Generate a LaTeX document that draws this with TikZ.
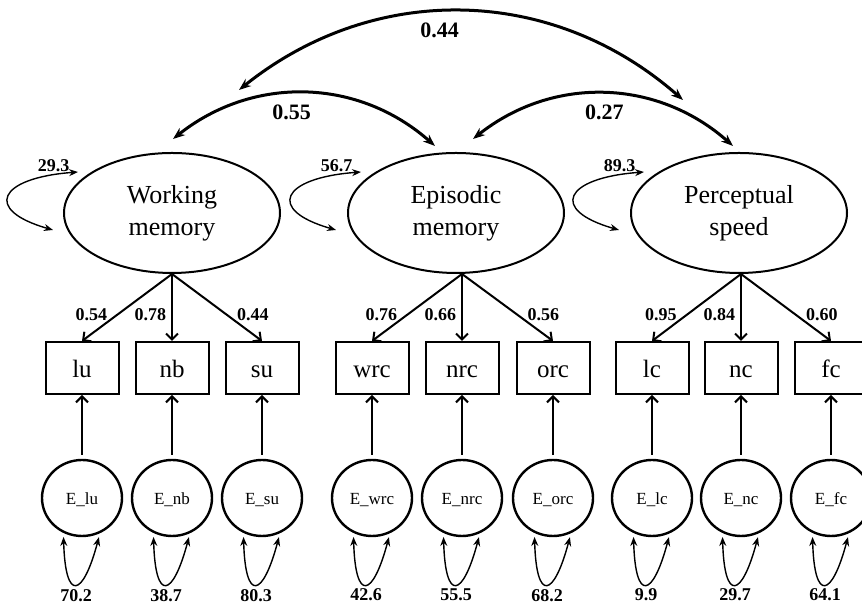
\documentclass[tikz,border=0pt]{standalone}
\usepackage{fontspec}
\setmainfont{Liberation Serif}
\usepackage{tikz}
\usetikzlibrary{arrows.meta, shapes.geometric}

\begin{document}
\begin{tikzpicture}[x=0.5pt, y=0.5pt]
    \tikzstyle{latent}=[draw,ellipse,line width=1pt,minimum width=108pt,minimum height=60pt,inner sep=0pt,align=center,font=\fontsize{13}{16}\selectfont]
    \tikzstyle{observed}=[draw,rectangle,line width=1pt,minimum width=36.5pt,minimum height=26pt,inner sep=0pt,text height=10pt,text depth=0pt,font=\fontsize{12.5}{14}\selectfont]
    \tikzstyle{error}=[draw,ellipse,line width=1.2pt,minimum width=40pt,minimum height=38pt,inner sep=0pt,text height=6.5pt,text depth=0pt,font=\fontsize{8.5}{10}\selectfont]
    \tikzstyle{weight}=[inner sep=0pt,font=\fontsize{9}{10}\selectfont\bfseries]
    \tikzstyle{bigweight}=[inner sep=0pt,font=\fontsize{11}{12}\selectfont\bfseries]
    \tikzstyle{loading}=[draw,line width=1pt,-{Straight Barb[length=3pt,width=6pt]}]
    \tikzstyle{resid}=[loading,shorten <=2pt]
    \tikzstyle{cov}=[draw,line width=1.5pt,{Stealth[length=6pt,width=4.5pt]}-{Stealth[length=6pt,width=4.5pt]}]
    \tikzstyle{variance}=[draw,line width=0.7pt,{Stealth[length=4.5pt,width=3.5pt]}-{Stealth[length=4.5pt,width=3.5pt]}]
    \tikzstyle{evariance}=[variance,shorten <=2pt,shorten >=2pt]

    \useasboundingbox (0,0) rectangle (862,608);

    % latent factors
    \node[latent] (wm) at (172,395) {Working\\memory};
    \node[latent] (em) at (456,395) {Episodic\\memory};
    \node[latent] (ps) at (739,395) {Perceptual\\speed};

    % indicators
    \node[observed] (lu)  at (82,240)  {lu};
    \node[observed] (nb)  at (172,240) {nb};
    \node[observed] (su)  at (262,240) {su};
    \node[observed] (wrc) at (372,240) {wrc};
    \node[observed] (nrc) at (462,240) {nrc};
    \node[observed] (orc) at (553,240) {orc};
    \node[observed] (lc)  at (652,240) {lc};
    \node[observed] (nc)  at (741,240) {nc};
    \node[observed] (fc)  at (831,240) {fc};

    % error terms
    \node[error] (elu)  at (82,110)  {E\_lu};
    \node[error] (enb)  at (172,110) {E\_nb};
    \node[error] (esu)  at (262,110) {E\_su};
    \node[error] (ewrc) at (372,110) {E\_wrc};
    \node[error] (enrc) at (462,110) {E\_nrc};
    \node[error] (eorc) at (553,110) {E\_orc};
    \node[error] (elc)  at (652,110) {E\_lc};
    \node[error] (enc)  at (741,110) {E\_nc};
    \node[error] (efc)  at (831,110) {E\_fc};

    % ends of the free curves
    \coordinate (wm-c1) at (173,469);
    \coordinate (wm-c2) at (239,518);
    \coordinate (em-c1) at (435,462);
    \coordinate (em-c2) at (473,469);
    \coordinate (ps-c1) at (733,462);
    \coordinate (ps-c2) at (683,508);
    \coordinate (wm-v1) at (78,436);
    \coordinate (wm-v2) at (53,378);
    \coordinate (em-v1) at (361,436);
    \coordinate (em-v2) at (336,378);
    \coordinate (ps-v1) at (644,436);
    \coordinate (ps-v2) at (619,378);

    % covariances
    \path[cov] (wm-c1) to[bend left=40] node[bigweight, pos=0.45, below=5pt]{0.55} (em-c1);
    \path[cov] (em-c2) to[bend left=40] node[bigweight, below=5pt]{0.27} (ps-c1);
    \path[cov] (wm-c2) to[bend left=40] node[bigweight, pos=0.45, below=5pt]{0.44} (ps-c2);

    % factor variances
    \path[variance] (wm-v1) .. controls +(-80,-6) and +(-70,20) .. (wm-v2) node[weight, pos=0, anchor=south east, xshift=-4pt]{29.3};
    \path[variance] (em-v1) .. controls +(-80,-6) and +(-70,20) .. (em-v2) node[weight, pos=0, anchor=south east, xshift=-4pt]{56.7};
    \path[variance] (ps-v1) .. controls +(-80,-6) and +(-70,20) .. (ps-v2) node[weight, pos=0, anchor=south east, xshift=-4pt]{89.3};

    % loadings
    \path[loading] (wm.south -| nb) -- node[weight, pos=0.6, left=5pt]{0.54} (lu.north);
    \path[loading] (wm.south -| nb) -- node[weight, pos=0.6, left=2.5pt]{0.78} (nb.north);
    \path[loading] (wm.south -| nb) -- node[weight, pos=0.6, right=5pt]{0.44} (su.north);
    \path[loading] (em.south -| nrc) -- node[weight, pos=0.6, left=5pt]{0.76} (wrc.north);
    \path[loading] (em.south -| nrc) -- node[weight, pos=0.6, left=2.5pt]{0.66} (nrc.north);
    \path[loading] (em.south -| nrc) -- node[weight, pos=0.6, right=5pt]{0.56} (orc.north);
    \path[loading] (ps.south -| nc) -- node[weight, pos=0.6, left=5pt]{0.95} (lc.north);
    \path[loading] (ps.south -| nc) -- node[weight, pos=0.6, left=2.5pt]{0.84} (nc.north);
    \path[loading] (ps.south -| nc) -- node[weight, pos=0.6, right=5pt]{0.60} (fc.north);

    % errors to indicators
    \path[resid] (elu) -- (lu);
    \path[resid] (enb) -- (nb);
    \path[resid] (esu) -- (su);
    \path[resid] (ewrc) -- (wrc);
    \path[resid] (enrc) -- (nrc);
    \path[resid] (eorc) -- (orc);
    \path[resid] (elc) -- (lc);
    \path[resid] (enc) -- (nc);
    \path[resid] (efc) -- (fc);

    % error variances
    \path[evariance] (elu.242) .. controls +(2,-70) and +(-17,-64) .. (elu.297) node[weight, midway, below=2.5pt]{70.2};
    \path[evariance] (enb.242) .. controls +(2,-70) and +(-17,-64) .. (enb.297) node[weight, midway, below=2.5pt]{38.7};
    \path[evariance] (esu.242) .. controls +(2,-70) and +(-17,-64) .. (esu.297) node[weight, midway, below=2.5pt]{80.3};
    \path[evariance] (ewrc.242) .. controls +(2,-70) and +(-17,-64) .. (ewrc.297) node[weight, midway, below=2.5pt]{42.6};
    \path[evariance] (enrc.242) .. controls +(2,-70) and +(-17,-64) .. (enrc.297) node[weight, midway, below=2.5pt]{55.5};
    \path[evariance] (eorc.242) .. controls +(2,-70) and +(-17,-64) .. (eorc.297) node[weight, midway, below=2.5pt]{68.2};
    \path[evariance] (elc.242) .. controls +(2,-70) and +(-17,-64) .. (elc.297) node[weight, midway, below=2.5pt]{9.9};
    \path[evariance] (enc.242) .. controls +(2,-70) and +(-17,-64) .. (enc.297) node[weight, midway, below=2.5pt]{29.7};
    \path[evariance] (efc.242) .. controls +(2,-70) and +(-17,-64) .. (efc.297) node[weight, midway, below=2.5pt]{64.1};

\end{tikzpicture}
\end{document}
